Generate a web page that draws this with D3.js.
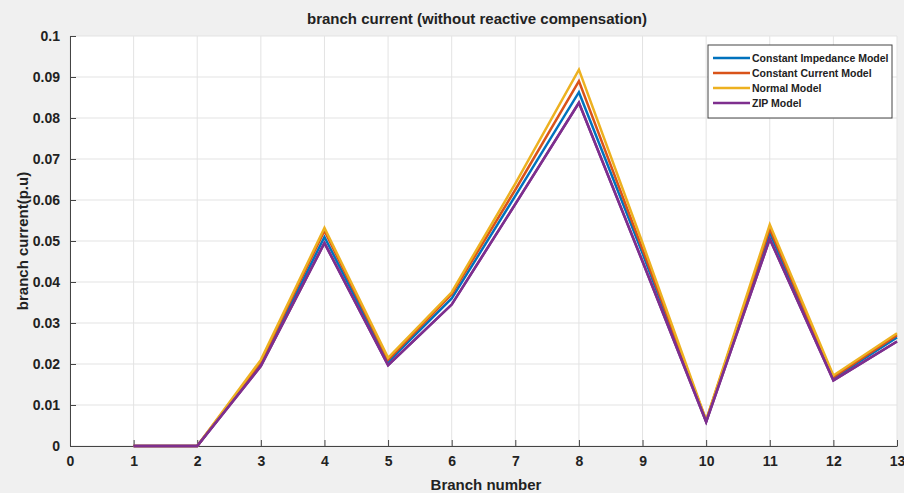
<!DOCTYPE html>
<html><head><meta charset="utf-8">
<script src="https://cdn.jsdelivr.net/npm/d3@7"></script>
<style>body{margin:0;background:#f0f0f0;}svg{display:block;}</style>
</head><body>
<script>
const branches = [1,2,3,4,5,6,7,8,9,10,11,12,13];
const constImpedance = [0,0,0.0200,0.0510,0.0205,0.0360,0.0610,0.0863,0.0470,0.0061,0.0520,0.0165,0.0265];
const constCurrent   = [0,0,0.0205,0.0525,0.0210,0.0370,0.0625,0.0890,0.0480,0.0062,0.0530,0.0168,0.0270];
const normalModel    = [0,0,0.0210,0.0532,0.0215,0.0375,0.0640,0.0918,0.0495,0.0063,0.0540,0.0172,0.0275];
const zipModel       = [0,0,0.0195,0.0495,0.0197,0.0345,0.0590,0.0837,0.0450,0.0059,0.0505,0.0160,0.0255];
const seriesNames = ["Constant Impedance Model","Constant Current Model","Normal Model","ZIP Model"];
const seriesColors = ["#0072BD","#D95319","#EDB120","#7E2F8E"];
const xTicks = [0,1,2,3,4,5,6,7,8,9,10,11,12,13];
const yTicks = [0,0.01,0.02,0.03,0.04,0.05,0.06,0.07,0.08,0.09,0.1];

const W=904,H=493;
const m={left:70,top:36,right:7,bottom:47};
const svg=d3.select("body").append("svg").attr("width",W).attr("height",H);
svg.append("rect").attr("width",W).attr("height",H).attr("fill","#f0f0f0");
const x=d3.scaleLinear().domain([0,13]).range([m.left,W-m.right]);
const y=d3.scaleLinear().domain([0,0.1]).range([H-m.bottom,m.top]);
const font="'Liberation Sans', Arial, sans-serif";

svg.append("rect").attr("x",x(0)).attr("y",y(0.1)).attr("width",x(13)-x(0)).attr("height",y(0)-y(0.1)).attr("fill","#fff");

// grid
const g=svg.append("g");
g.selectAll(".vg").data(xTicks).join("line").attr("x1",d=>x(d)).attr("x2",d=>x(d)).attr("y1",y(0)).attr("y2",y(0.1)).attr("stroke","#e3e3e3").attr("stroke-width",1);
g.selectAll(".hg").data(yTicks).join("line").attr("x1",x(0)).attr("x2",x(13)).attr("y1",d=>y(d)).attr("y2",d=>y(d)).attr("stroke","#e3e3e3").attr("stroke-width",1);

// axes
const xAxis=d3.axisBottom(x).tickValues(xTicks).tickFormat(d3.format("d")).tickSizeInner(-6).tickSizeOuter(0).tickPadding(10);
const yAxis=d3.axisLeft(y).tickValues(yTicks).tickFormat(d=>d===0?"0":d3.format(".2~f")(d)).tickSizeInner(-6).tickSizeOuter(0).tickPadding(10);
const gx=svg.append("g").attr("transform",`translate(0,${y(0)})`).call(xAxis);
const gy=svg.append("g").attr("transform",`translate(${x(0)},0)`).call(yAxis);
[gx,gy].forEach(a=>{a.select(".domain").attr("stroke","#444").attr("stroke-width",1);
 a.selectAll(".tick line").attr("stroke","#444");
 a.selectAll("text").attr("font-family",font).attr("font-weight","bold").attr("font-size",14).attr("fill","#222");});

// lines
const series=[constImpedance,constCurrent,normalModel,zipModel];
const line=d3.line().x((d,i)=>x(branches[i])).y(d=>y(d));
series.forEach((s,k)=>{
  svg.append("path").datum(s).attr("d",line).attr("fill","none").attr("stroke",seriesColors[k]).attr("stroke-width",2.5).attr("stroke-linejoin","miter");
});
svg.append("path").datum(zipModel).attr("d",line).attr("fill","none").attr("stroke",seriesColors[3]).attr("stroke-width",2.5);

// title & labels
svg.append("text").attr("x",477).attr("y",24).attr("text-anchor","middle").attr("font-family",font).attr("font-weight","bold").attr("font-size",15).attr("fill","#222").text("branch current (without reactive compensation)");
svg.append("text").attr("x",486).attr("y",490).attr("text-anchor","middle").attr("font-family",font).attr("font-weight","bold").attr("font-size",15).attr("fill","#222").text("Branch number");
svg.append("text").attr("transform",`translate(28,${(y(0)+y(0.1))/2}) rotate(-90)`).attr("text-anchor","middle").attr("font-family",font).attr("font-weight","bold").attr("font-size",15).attr("fill","#222").text("branch current(p.u)");

// legend
const lg=svg.append("g").attr("transform","translate(708,45)");
lg.append("rect").attr("width",184).attr("height",73).attr("fill","#fff").attr("stroke","#444").attr("stroke-width",1);
seriesNames.forEach((n,i)=>{
  const yy=13+i*15;
  lg.append("line").attr("x1",5).attr("x2",42).attr("y1",yy).attr("y2",yy).attr("stroke",seriesColors[i]).attr("stroke-width",2.5);
  lg.append("text").attr("x",44).attr("y",yy+4).attr("font-family",font).attr("font-weight","bold").attr("font-size",10.5).attr("fill","#222").text(n);
});
</script>
</body></html>
